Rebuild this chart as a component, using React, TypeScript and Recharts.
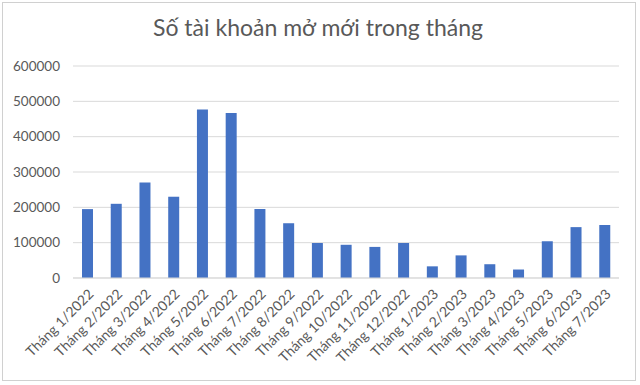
import { Bar, BarChart, CartesianGrid, XAxis, YAxis } from "recharts";

const months = [
  "Tháng 1/2022",
  "Tháng 2/2022",
  "Tháng 3/2022",
  "Tháng 4/2022",
  "Tháng 5/2022",
  "Tháng 6/2022",
  "Tháng 7/2022",
  "Tháng 8/2022",
  "Tháng 9/2022",
  "Tháng 10/2022",
  "Tháng 11/2022",
  "Tháng 12/2022",
  "Tháng 1/2023",
  "Tháng 2/2023",
  "Tháng 3/2023",
  "Tháng 4/2023",
  "Tháng 5/2023",
  "Tháng 6/2023",
  "Tháng 7/2023",
];

const newAccounts = [
  195000, 210000, 270000, 230000, 477000, 467000, 195000, 155000, 99000,
  94000, 88000, 99000, 33000, 64000, 39000, 24000, 104000, 144000, 150000,
];

const yTicks = [0, 100000, 200000, 300000, 400000, 500000, 600000];

const data = months.map((m, i) => ({ month: m, value: newAccounts[i] }));

const FONT = "Lato, 'Open Sans', sans-serif";
const GREY = "#595959";

export default function App() {
  return (
    <div
      style={{
        position: "absolute",
        left: 0,
        top: 0,
        width: 640,
        height: 385,
        background: "#fff",
        fontFamily: FONT,
      }}
    >
      <div
        style={{
          position: "absolute",
          left: 2,
          top: 2,
          width: 634,
          height: 379,
          border: "1px solid #d0d0d0",
          boxSizing: "border-box",
        }}
      />
      <div
        style={{
          position: "absolute",
          left: 0,
          top: 13,
          width: 636,
          textAlign: "center",
          fontSize: 23,
          color: GREY,
        }}
      >
        Số tài khoản mở mới trong tháng
      </div>
      <div style={{ position: "absolute", left: 0, top: 0 }}>
        <BarChart
          width={640}
          height={385}
          data={data}
          margin={{ top: 66, right: 21, left: 0, bottom: 0 }}
          barSize={11}
        >
          <CartesianGrid vertical={false} stroke="#d9d9d9" />
          <XAxis
            dataKey="month"
            height={107}
            interval={0}
            tickLine={false}
            axisLine={{ stroke: "#d9d9d9" }}
            angle={-45}
            textAnchor="end"
            tickMargin={4}
            tick={{ fill: GREY, fontSize: 14, fontFamily: FONT }}
          />
          <YAxis
            width={73}
            domain={[0, 600000]}
            ticks={yTicks}
            tickLine={false}
            axisLine={false}
            tickMargin={7}
            tick={{ fill: GREY, fontSize: 13.5, fontFamily: FONT }}
          />
          <Bar dataKey="value" fill="#4472C4" isAnimationActive={false} />
        </BarChart>
      </div>
    </div>
  );
}
